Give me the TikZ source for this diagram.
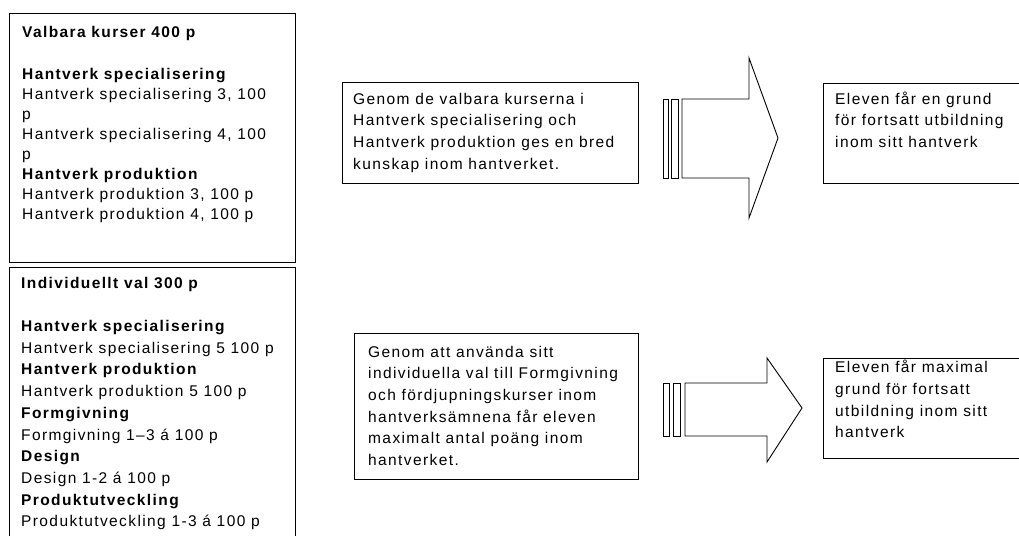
\documentclass[tikz,border=0pt]{standalone}
\usepackage{fontspec}
\setmainfont{Liberation Sans}[LetterSpace=9]
\usetikzlibrary{positioning}

\begin{document}
\begin{tikzpicture}[x=1pt,y=-1pt,
  frame/.style={draw,line width=1pt,rectangle,anchor=north west,inner sep=0pt},
  box text/.style={anchor=north west,inner sep=0pt,align=left,font=\fontsize{15.5}{21.7}\selectfont},
  list text/.style={box text,font=\fontsize{15.5}{20}\selectfont},
  block arrow/.style={draw,line width=0.9pt,line join=miter}]
  \clip (0,0) rectangle (1019,535);

  % left column
  \node[frame, minimum width=286pt, minimum height=249pt] (valbara) at (9,13) {};
  \node[frame, minimum width=286pt, minimum height=290pt] (individ) at (9,267) {};
  \node[list text, below right=10pt and 13pt of valbara.north west] (valbaratext)
    {\strut\textbf{Valbara kurser 400 p}\\[22pt]
     \textbf{Hantverk specialisering}\\
     Hantverk specialisering 3, 100\\
     p\\
     Hantverk specialisering 4, 100\\
     p\\
     \textbf{Hantverk produktion}\\
     Hantverk produktion 3, 100 p\\
     Hantverk produktion 4, 100 p};
  \node[box text, below right=5.8pt and 12pt of individ.north west] (individtext)
    {\strut\textbf{Individuellt val 300 p}\\[21.7pt]
     \textbf{Hantverk specialisering}\\
     Hantverk specialisering 5 100 p\\
     \textbf{Hantverk produktion}\\
     Hantverk produktion 5 100 p\\
     \textbf{Formgivning}\\
     Formgivning 1–3 á 100 p\\
     \textbf{Design}\\
     Design 1-2 á 100 p\\
     \textbf{Produktutveckling}\\
     Produktutveckling 1-3 á 100 p};

  % middle column
  \node[frame, minimum width=296pt, minimum height=101pt] (bred) at (342,82) {};
  \node[box text, below right=6.8pt and 11pt of bred.north west] (bredtext)
    {\strut Genom de valbara kurserna i\\
     Hantverk specialisering och\\
     Hantverk produktion ges en bred\\
     kunskap inom hantverket.};
  \node[frame, minimum width=284pt, minimum height=146pt] (maxval) at (354,333) {};
  \node[box text, below right=8.8pt and 14pt of maxval.north west] (maxvaltext)
    {\strut Genom att använda sitt\\
     individuella val till Formgivning\\
     och fördjupningskurser inom\\
     hantverksämnena får eleven\\
     maximalt antal poäng inom\\
     hantverket.};

  % right column
  \node[frame, minimum width=220pt, minimum height=100pt] (grund) at (823,83) {};
  \node[box text, below right=5.8pt and 12pt of grund.north west] (grundtext)
    {\strut Eleven får en grund\\
     för fortsatt utbildning\\
     inom sitt hantverk};
  \node[frame, minimum width=220pt, minimum height=100pt] (maxgrund) at (823,358) {};
  \node[box text, below right=-0.5pt and 12pt of maxgrund.north west] (maxgrundtext)
    {\strut Eleven får maximal\\
     grund för fortsatt\\
     utbildning inom sitt\\
     hantverk};

  % arrows
  \draw[block arrow] (663,99) rectangle (668,178);
  \draw[block arrow] (671,99) rectangle (678,178);
  \draw[block arrow] (682,99) -- (749,99) -- (749,58) -- (778,138)
    -- (749,218) -- (749,178) -- (682,178) -- cycle;
  \draw[block arrow] (663,383) rectangle (669,436);
  \draw[block arrow] (673,383) rectangle (680,436);
  \draw[block arrow] (685,383) -- (767,383) -- (767,358) -- (802,408)
    -- (767,462) -- (767,436) -- (685,436) -- cycle;
\end{tikzpicture}
\end{document}
